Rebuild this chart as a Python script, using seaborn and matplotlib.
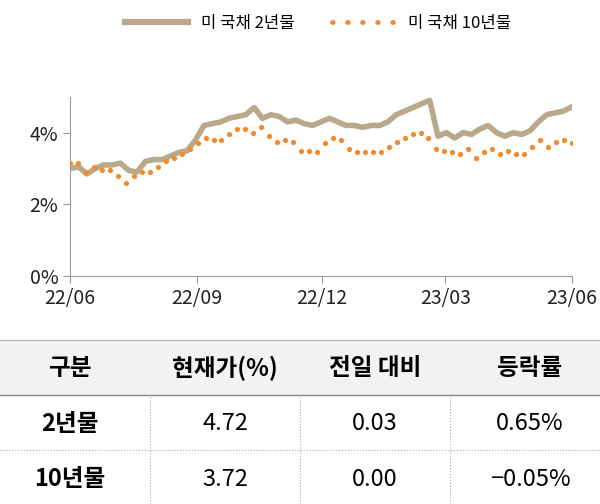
import numpy as np
import pandas as pd
import matplotlib
matplotlib.use("Agg")
import matplotlib.pyplot as plt
from matplotlib.lines import Line2D
import seaborn as sns

plt.rcParams["font.family"] = ["Noto Sans CJK KR", "Noto Sans CJK JP", "Noto Sans CJK SC",
                               "Noto Sans CJK TC", "DejaVu Sans"]

# ----------------------------------------------------------
# Data
# ----------------------------------------------------------
y2_vals = [3.0, 3.05, 2.85, 3.0, 3.1, 3.1, 3.15, 2.95, 2.9, 3.2, 3.25, 3.25, 3.35, 3.45,
           3.5, 3.8, 4.2, 4.25, 4.3, 4.4, 4.45, 4.5, 4.7, 4.4, 4.5, 4.45, 4.3, 4.35, 4.25,
           4.2, 4.3, 4.4, 4.3, 4.2, 4.2, 4.15, 4.2, 4.2, 4.3, 4.5, 4.6, 4.7, 4.8, 4.9,
           3.9, 4.0, 3.85, 4.0, 3.95, 4.1, 4.2, 4.0, 3.9, 4.0, 3.95, 4.05, 4.3, 4.5,
           4.55, 4.6, 4.72]
y10_vals = [3.15, 3.15, 2.9, 3.05, 2.95, 2.95, 2.8, 2.6, 2.8, 2.9, 2.9, 3.05, 3.2, 3.3,
            3.4, 3.55, 3.7, 3.85, 3.8, 3.8, 3.95, 4.1, 4.1, 4.0, 4.15, 3.9, 3.75, 3.8,
            3.75, 3.5, 3.5, 3.45, 3.7, 3.85, 3.8, 3.55, 3.45, 3.45, 3.45, 3.45, 3.6, 3.75,
            3.85, 3.95, 3.98, 3.85, 3.55, 3.5, 3.45, 3.4, 3.55, 3.3, 3.45, 3.55, 3.4, 3.5,
            3.4, 3.4, 3.6, 3.8, 3.6, 3.75, 3.8, 3.72]
start, end = "2022-06-01", "2023-06-01"
tick_dates = ["2022-06-01", "2022-09-01", "2022-12-01", "2023-03-01", "2023-06-01"]
tick_labels = ["22/06", "22/09", "22/12", "23/03", "23/06"]

table_header = ["구분", "현재가(%)", "전일 대비", "등락률"]
table_rows = [["2년물", "4.72", "0.03", "0.65%"],
              ["10년물", "3.72", "0.00", "\u22120.05%"]]

df2 = pd.DataFrame({"date": pd.date_range(start, end, periods=len(y2_vals)), "v": y2_vals})
df10 = pd.DataFrame({"date": pd.date_range(start, end, periods=len(y10_vals)), "v": y10_vals})

tan = "#b9a98a"
orange = "#f08a2c"

fig = plt.figure(figsize=(6, 5.04), dpi=100)
ax = fig.add_axes([0.117, 0.452, 0.836, 0.356])

sns.lineplot(data=df2, x="date", y="v", ax=ax, color=tan, linewidth=4, label="미 국채 2년물")
sns.scatterplot(data=df10, x="date", y="v", ax=ax, color=orange, s=14, linewidth=0,
                label="미 국채 10년물", zorder=3)

ax.set_xlim(pd.Timestamp(start), pd.Timestamp(end))
ax.set_ylim(0, 5)
ax.set_yticks([0, 2, 4])
ax.set_yticklabels(["0%", "2%", "4%"])
ax.set_xticks(pd.to_datetime(tick_dates))
ax.set_xticklabels(tick_labels)
ax.set_xlabel("")
ax.set_ylabel("")
for s in ["top", "right"]:
    ax.spines[s].set_visible(False)
for s in ["left", "bottom"]:
    ax.spines[s].set_color("#999999")
ax.tick_params(colors="#999999", labelcolor="#222222", labelsize=14, length=5)

handles, labels = ax.get_legend_handles_labels()
handles = [Line2D([], [], color=tan, linewidth=4.5),
           Line2D([], [], color=orange, linestyle=(0, (0.1, 3)), linewidth=3.5,
                  dash_capstyle="round")]
ax.legend(handles, labels, loc="upper center", bbox_to_anchor=(0.53, 1.0), bbox_transform=fig.transFigure,
          ncol=2, frameon=False, fontsize=12, handlelength=3.8, columnspacing=2.2)

# ----------------------------------------------------------
# Table below
# ----------------------------------------------------------
def fy(px):
    return 1 - px / 504

fig.patches.append(plt.Rectangle((0, fy(395)), 1, fy(340) - fy(395), transform=fig.transFigure,
                                 color="#f2f2f2", zorder=0))
fig.add_artist(Line2D([0, 1], [fy(340), fy(340)], color="#bbbbbb", linewidth=1))
fig.add_artist(Line2D([0, 1], [fy(395), fy(395)], color="#888888", linewidth=1))
fig.add_artist(Line2D([0, 1], [fy(450), fy(450)], color="#aaaaaa", linewidth=0.8, linestyle=":"))
for xp in [150, 300, 450]:
    fig.add_artist(Line2D([xp / 600] * 2, [0, fy(395)], color="#aaaaaa", linewidth=0.8, linestyle=":"))

col_x = [70, 225, 375, 530]
for x, t in zip(col_x, table_header):
    fig.text(x / 600, fy(368), t, ha="center", va="center", fontsize=17, fontweight="bold")
for r, row in enumerate(table_rows):
    yc = fy(424 + r * 55)
    for c, (x, t) in enumerate(zip(col_x, row)):
        fig.text(x / 600, yc, t, ha="center", va="center", fontsize=17,
                 fontweight="bold" if c == 0 else "normal")

fig.savefig("out.png", dpi=100)
